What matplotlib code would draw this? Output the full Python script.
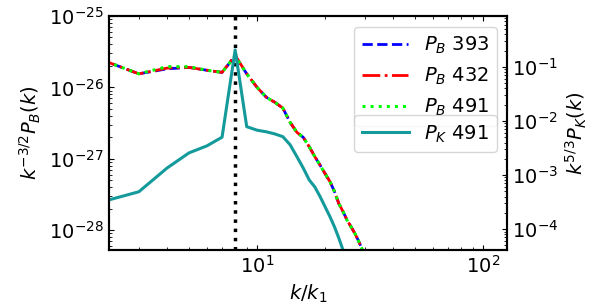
import matplotlib
matplotlib.use('Agg')
import matplotlib.pyplot as plt
import numpy as np

plt.rcParams['font.size'] = 14
plt.rcParams['mathtext.fontset'] = 'dejavusans'

# wavenumbers k/k1
k = np.arange(2, 31)

# log10 of k^{-3/2} P_B(k) at three times
logPB_393 = [-25.60, -25.81, -25.74, -25.72, -25.76, -25.79, -25.56, -25.81, -26.00,
             -26.14, -26.21, -26.29, -26.49, -26.63, -26.70, -26.83, -26.97, -27.09,
             -27.21, -27.32, -27.46, -27.63, -27.74, -27.86, -27.95, -28.04, -28.14,
             -28.25, -28.40]
logPB_432 = [-25.60, -25.81, -25.73, -25.72, -25.76, -25.79, -25.55, -25.81, -26.00,
             -26.14, -26.21, -26.29, -26.49, -26.63, -26.70, -26.83, -26.97, -27.09,
             -27.21, -27.32, -27.46, -27.63, -27.74, -27.86, -27.95, -28.04, -28.14,
             -28.25, -28.40]
logPB_491 = [-25.60, -25.81, -25.71, -25.71, -25.76, -25.79, -25.56, -25.81, -26.00,
             -26.14, -26.21, -26.29, -26.49, -26.63, -26.70, -26.83, -26.97, -27.09,
             -27.21, -27.32, -27.46, -27.63, -27.74, -27.86, -27.95, -28.04, -28.14,
             -28.25, -28.40]
# log10 of k^{5/3} P_K(k)
logPK_491 = [-3.51, -3.31, -2.87, -2.59, -2.46, -2.30, -0.685, -2.105, -2.17,
             -2.20, -2.24, -2.29, -2.44, -2.66, -2.87, -3.09, -3.22, -3.40,
             -3.59, -3.77, -3.96, -4.17, -4.39, -4.60, -4.80, -5.00, -5.20,
             -5.40, -5.60]

k_forcing = 8

fig = plt.figure(figsize=(5.98, 3.08), dpi=100)
ax = fig.add_axes([0.182, 0.188, 0.666, 0.76])
ax2 = ax.twinx()

l1, = ax.plot(k, 10**np.array(logPB_393), color='blue', ls='--', lw=2, label=r'$P_B$ 393')
l2, = ax.plot(k, 10**np.array(logPB_432), color='red', ls='-.', lw=2, label=r'$P_B$ 432')
l3, = ax.plot(k, 10**np.array(logPB_491), color='lime', ls=':', lw=2.2, label=r'$P_B$ 491')
ax.axvline(k_forcing, color='k', ls=':', lw=2.5)
l4, = ax2.plot(k, 10**np.array(logPK_491), color='#149a9a', ls='-', lw=2.2, label=r'$P_K$ 491')

ax.set_xscale('log')
ax.set_yscale('log')
ax2.set_yscale('log')
ax.set_xlim(2.21, 127.6)
ax.set_ylim(10**-28.28, 1e-25)
ax2.set_ylim(10**-4.39, 10**-0.056)

ax.set_xlabel(r'$k/k_1$')
ax.set_ylabel(r'$k^{-3/2}P_B(k)$')
ax2.set_ylabel(r'$k^{5/3}P_K(k)$')

ax.tick_params(which='both', direction='in', top=True)
ax2.tick_params(which='both', direction='in')
for a in (ax, ax2):
    for s in a.spines.values():
        s.set_linewidth(1.5)

leg1 = ax2.legend(handles=[l1, l2, l3], loc='upper right',
                  bbox_to_anchor=(0.975, 0.953), borderaxespad=0, handlelength=2.4)
ax2.add_artist(leg1)
ax2.legend(handles=[l4], loc='upper right', bbox_to_anchor=(0.975, 0.575),
           borderaxespad=0, handlelength=2.4)

fig.savefig('out.png', dpi=100)
